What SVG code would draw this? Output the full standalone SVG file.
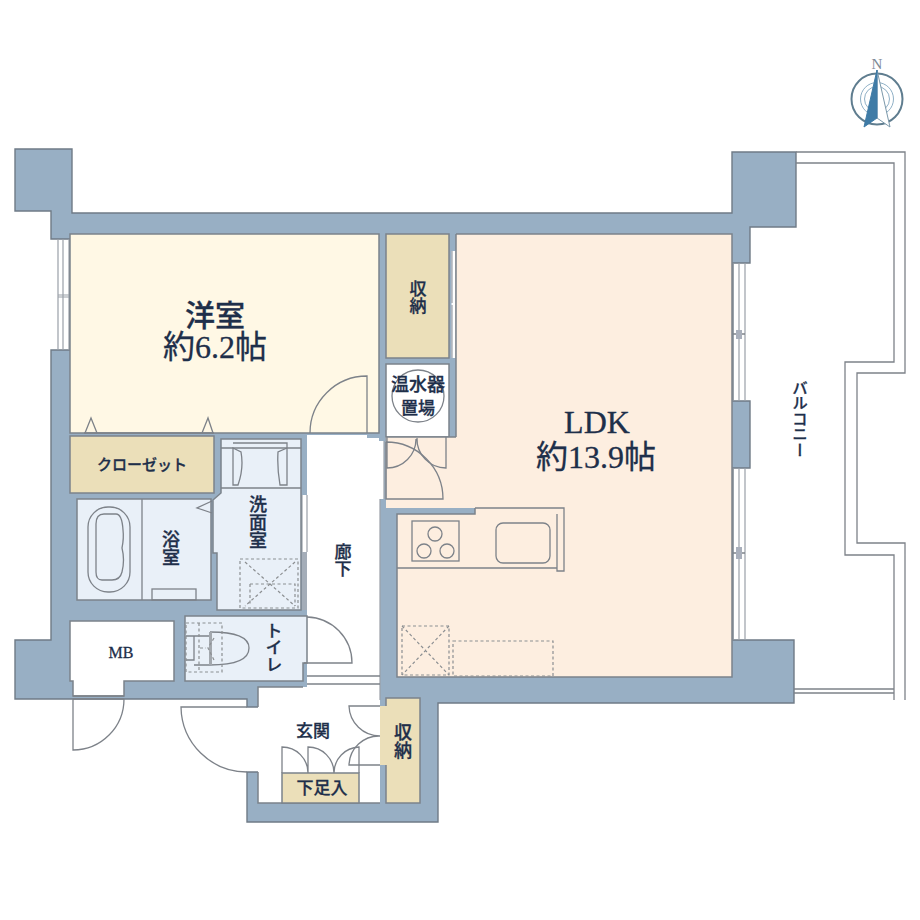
<svg xmlns="http://www.w3.org/2000/svg" width="920" height="920" viewBox="0 0 920 920">
<style>
text{fill:#1e2f4a;stroke:#1e2f4a;stroke-width:.3;text-anchor:middle;font-family:"Liberation Serif","Noto Sans CJK JP",sans-serif}
.j{font-family:"Noto Sans CJK JP",sans-serif;font-weight:500}
.v{writing-mode:vertical-rl;font-family:"Noto Sans CJK JP",sans-serif;font-weight:500}
.r{stroke:#7b838b;stroke-width:1.5}
.l{fill:none;stroke:#7d8289;stroke-width:1.3}
.t{fill:none;stroke:#9aa0a8;stroke-width:1.2}
.d{fill:none;stroke:#8c8f92;stroke-width:1.2;stroke-dasharray:3 2.5}
.yel{fill:#fff8e5}.tan{fill:#ebdfb9}.ldk{fill:#fdeee0}.wet{fill:#e9f0f8}.wh{fill:#fff}
</style>

<g id="walls">
<polygon points="15,149 72,149 72,213 732,213 732,152 796,152 796,227 750,227 750,263 733,263 733,401 750,401 750,468 733,468 733,640 794,640 794,703 438,703 438,822 247,822 247,772 259,772 259,707 247,707 247,699 15,699 15,640 51,640 51,350 70,350 70,239 51,239 51,211 15,211" fill="#98afc4" stroke="#6f7b86" stroke-width="1.4"/>
</g>

<g id="balcony">
<path class="l" d="M796 152H905V373H857V543H905V700M796 163H894V362H845V555H894V700M794 689H894M794 693H894"/>
<text class="v" x="800" y="419" font-size="15.5">バルコニー</text>
</g>

<g id="windows">
<path class="t" d="M58 239V350M63 239V350M69 239V350M58 295H69M58 297H69"/>
<path class="t" d="M733 263V401M739 263V401M745 263V401M733 468V640M739 468V640M745 468V640"/>
<path class="l" d="M733 334H745M733 553H745"/>
<rect x="736" y="330" width="6" height="9" fill="#a9afbb"/>
<rect x="736" y="547" width="6" height="12" fill="#a9afbb"/>
</g>

<g id="room-youshitsu">
<polygon class="r yel" points="70,234 379,234 379,433 70,433"/>
<path class="l" d="M84 433H214" stroke-width="2.5"/>
<path class="l" d="M85 433L91 418L97 433M202 433L208 418L213 433"/>
<path class="l" d="M310 433A57 57 0 0 1 367 376V433"/>
<text class="j" x="215" y="326" font-size="30">洋室</text>
<text x="215" y="358" font-size="32">約6.2帖</text>
</g>

<g id="room-closet">
<rect class="r tan" x="70" y="436" width="144" height="57"/>
<text class="j" x="142" y="470" font-size="15">クローゼット</text>
</g>

<g id="room-storage-1">
<rect class="r tan" x="386" y="234" width="63" height="124"/>
<text class="v" x="418" y="297" font-size="17">収納</text>
<rect class="wh" x="451.500" y="251" width="4.500" height="107"/>
<path class="t" d="M452 251V303M452 305V358M456 251V358"/>
</g>

<g id="room-heater">
<rect class="r wh" x="386" y="364" width="63" height="73"/>
<circle class="l" cx="418" cy="396" r="26"/>
<text class="j" x="418" y="391" font-size="18">温水器</text>
<text class="j" x="418" y="414" font-size="17">置場</text>
</g>

<g id="room-ldk">
<polygon class="ldk" points="456,234 732,234 732,677 397,677 397,514 475,514 475,508 386,508 386,437 456,437"/>
<path class="r" fill="none" d="M456 234H732V677H397V514H475V508M456 234V437M386 437H456"/>
<path class="t" d="M386 437V499"/>
<path class="l" d="M386 442V499H443A57 57 0 0 0 386 442"/>
<path class="l" d="M387 437V468A29 29 0 0 0 416 439M446 437V468A29 29 0 0 1 417 438"/>
<path class="l" d="M475 508H564V571H557V514M397 568H557"/>
<rect class="l" x="412" y="521" width="47" height="40"/>
<circle class="l" cx="435" cy="534" r="7"/><circle class="l" cx="424" cy="551" r="7"/><circle class="l" cx="447" cy="551" r="7"/>
<rect class="l" x="496" y="523" width="54" height="40" rx="7"/>
<rect class="d" x="402" y="626" width="47" height="49"/>
<path class="d" d="M402 626L449 675M449 626L402 675"/>
<rect class="d" x="453" y="641" width="100" height="35"/>
<text x="597" y="433" font-size="32">LDK</text>
<text x="596" y="468" font-size="32">約13.9帖</text>
</g>

<g id="room-hall">
<polygon class="wh" points="307,435 367,435 367,438 379,438 379,441 384,441 384,499 380,499 380,803 258,803 258,687 307,687"/>
<path class="t" d="M384 441V499M380 499V700"/>
<rect x="302" y="495" width="5.500" height="57" class="wh"/>
<path class="t" d="M302 495V552M307 495V552"/>
<rect x="302" y="552" width="5" height="58" fill="#a4adb8"/>
<path class="l" d="M307 676H380M307 684H380"/>
<text class="v" x="343" y="560" font-size="17">廊下</text>
<path class="r" fill="none" d="M258 707V687H303M258 772V803H380"/>
</g>

<g id="room-bath">
<rect class="r wet" x="77" y="499" width="134" height="101"/>
<path class="l" d="M142 499V600"/>
<rect class="l" x="88" y="507" width="42" height="85" rx="20"/>
<path class="l" d="M104 514H116Q122 514 123 530Q124 538 122 548Q125 560 122 572Q120 580 112 580H102Q96 580 96 572V524Q96 514 104 514Z"/>
<rect class="l" x="152" y="589" width="44" height="11"/>
<path class="l" d="M212 501L197 508L212 513"/>
<text class="v" x="171" y="548" font-size="18">浴室</text>
</g>

<g id="room-wash">
<polygon class="r wet" points="221,439 301,439 301,610 217,610 217,553 213,553 213,500 221,493"/>
<path class="l" d="M221 448H301M221 488H301"/>
<path class="l" d="M233 443H287V485H280Q277 468 278 452L287 448M233 448L241 452Q244 468 238 485H233Z"/>
<rect class="d" x="240" y="559" width="58" height="49"/>
<path class="d" d="M245 562L295 606M295 562L245 606"/>
<path class="d" d="M250 584H295V606M250 584V606"/>
<text class="v" x="258" y="522" font-size="18">洗面室</text>
</g>

<g id="room-toilet">
<polygon class="r wet" points="185,616 307,616 307,663 303,663 303,681 185,681"/>
<path class="l" d="M186 636H194V660H186M210 632Q249 632 249 648Q249 665 210 665M194 636H210M194 665H210"/>
<rect x="209" y="632" width="3" height="33" fill="#a3a8ae"/>
<rect class="d" x="186" y="623" width="36" height="49"/>
<path class="d" d="M199 623V672M200 648H206M214 638L208 648L214 660"/>
<path class="l" d="M307 617A46 46 0 0 1 352 663H304"/>
<text class="v" x="274" y="648" font-size="17">トイレ</text>
</g>

<g id="room-mb">
<polygon class="r wh" points="70,621 174,621 174,681 124,681 124,696 73,696 73,681 70,681"/>
<path class="l" d="M73 696H124M73 699H124M73 699V750A51 51 0 0 0 124 699"/>
<text x="121" y="658" font-size="16">MB</text>
</g>

<g id="room-entrance">
<path class="l" d="M247 707H181A66 66 0 0 0 247 772"/>
<path class="l" d="M380 706H349A31 31 0 0 0 380 736A30 30 0 0 0 349 765H380"/>
<text class="j" x="313" y="737" font-size="17">玄関</text>
</g>

<g id="room-shoes">
<rect class="r tan" x="282" y="773" width="77" height="30"/>
<path class="l" d="M282 773V747A26 26 0 0 1 308 773M308 773V747A26 26 0 0 1 334 773A26 26 0 0 1 359 747V773"/>
<text class="j" x="322" y="794" font-size="17">下足入</text>
</g>

<g id="room-storage-2">
<rect class="r tan" x="386" y="698" width="34" height="105"/>
<rect class="tan" x="380" y="706" width="7" height="59"/>
<text class="v" x="403" y="741" font-size="18">収納</text>
</g>

<g id="compass">
<text x="877" y="69" font-size="15" style="fill:#7c8a96;stroke:none">N</text>
<circle cx="877" cy="99" r="25.500" fill="#fff" stroke="#5f7d8f" stroke-width="2"/>
<circle cx="877" cy="99" r="16.500" fill="none" stroke="#8fb0c6" stroke-width="1"/>
<circle cx="877" cy="99" r="12.500" fill="none" stroke="#8fb0c6" stroke-width="1"/>
<polygon points="877,70 890,127 877,118" fill="#fff" stroke="#7b98aa"/>
<polygon points="877,70 864,127 877,118" fill="#3f7ba6" stroke="#3f7ba6"/>
</g>
</svg>
